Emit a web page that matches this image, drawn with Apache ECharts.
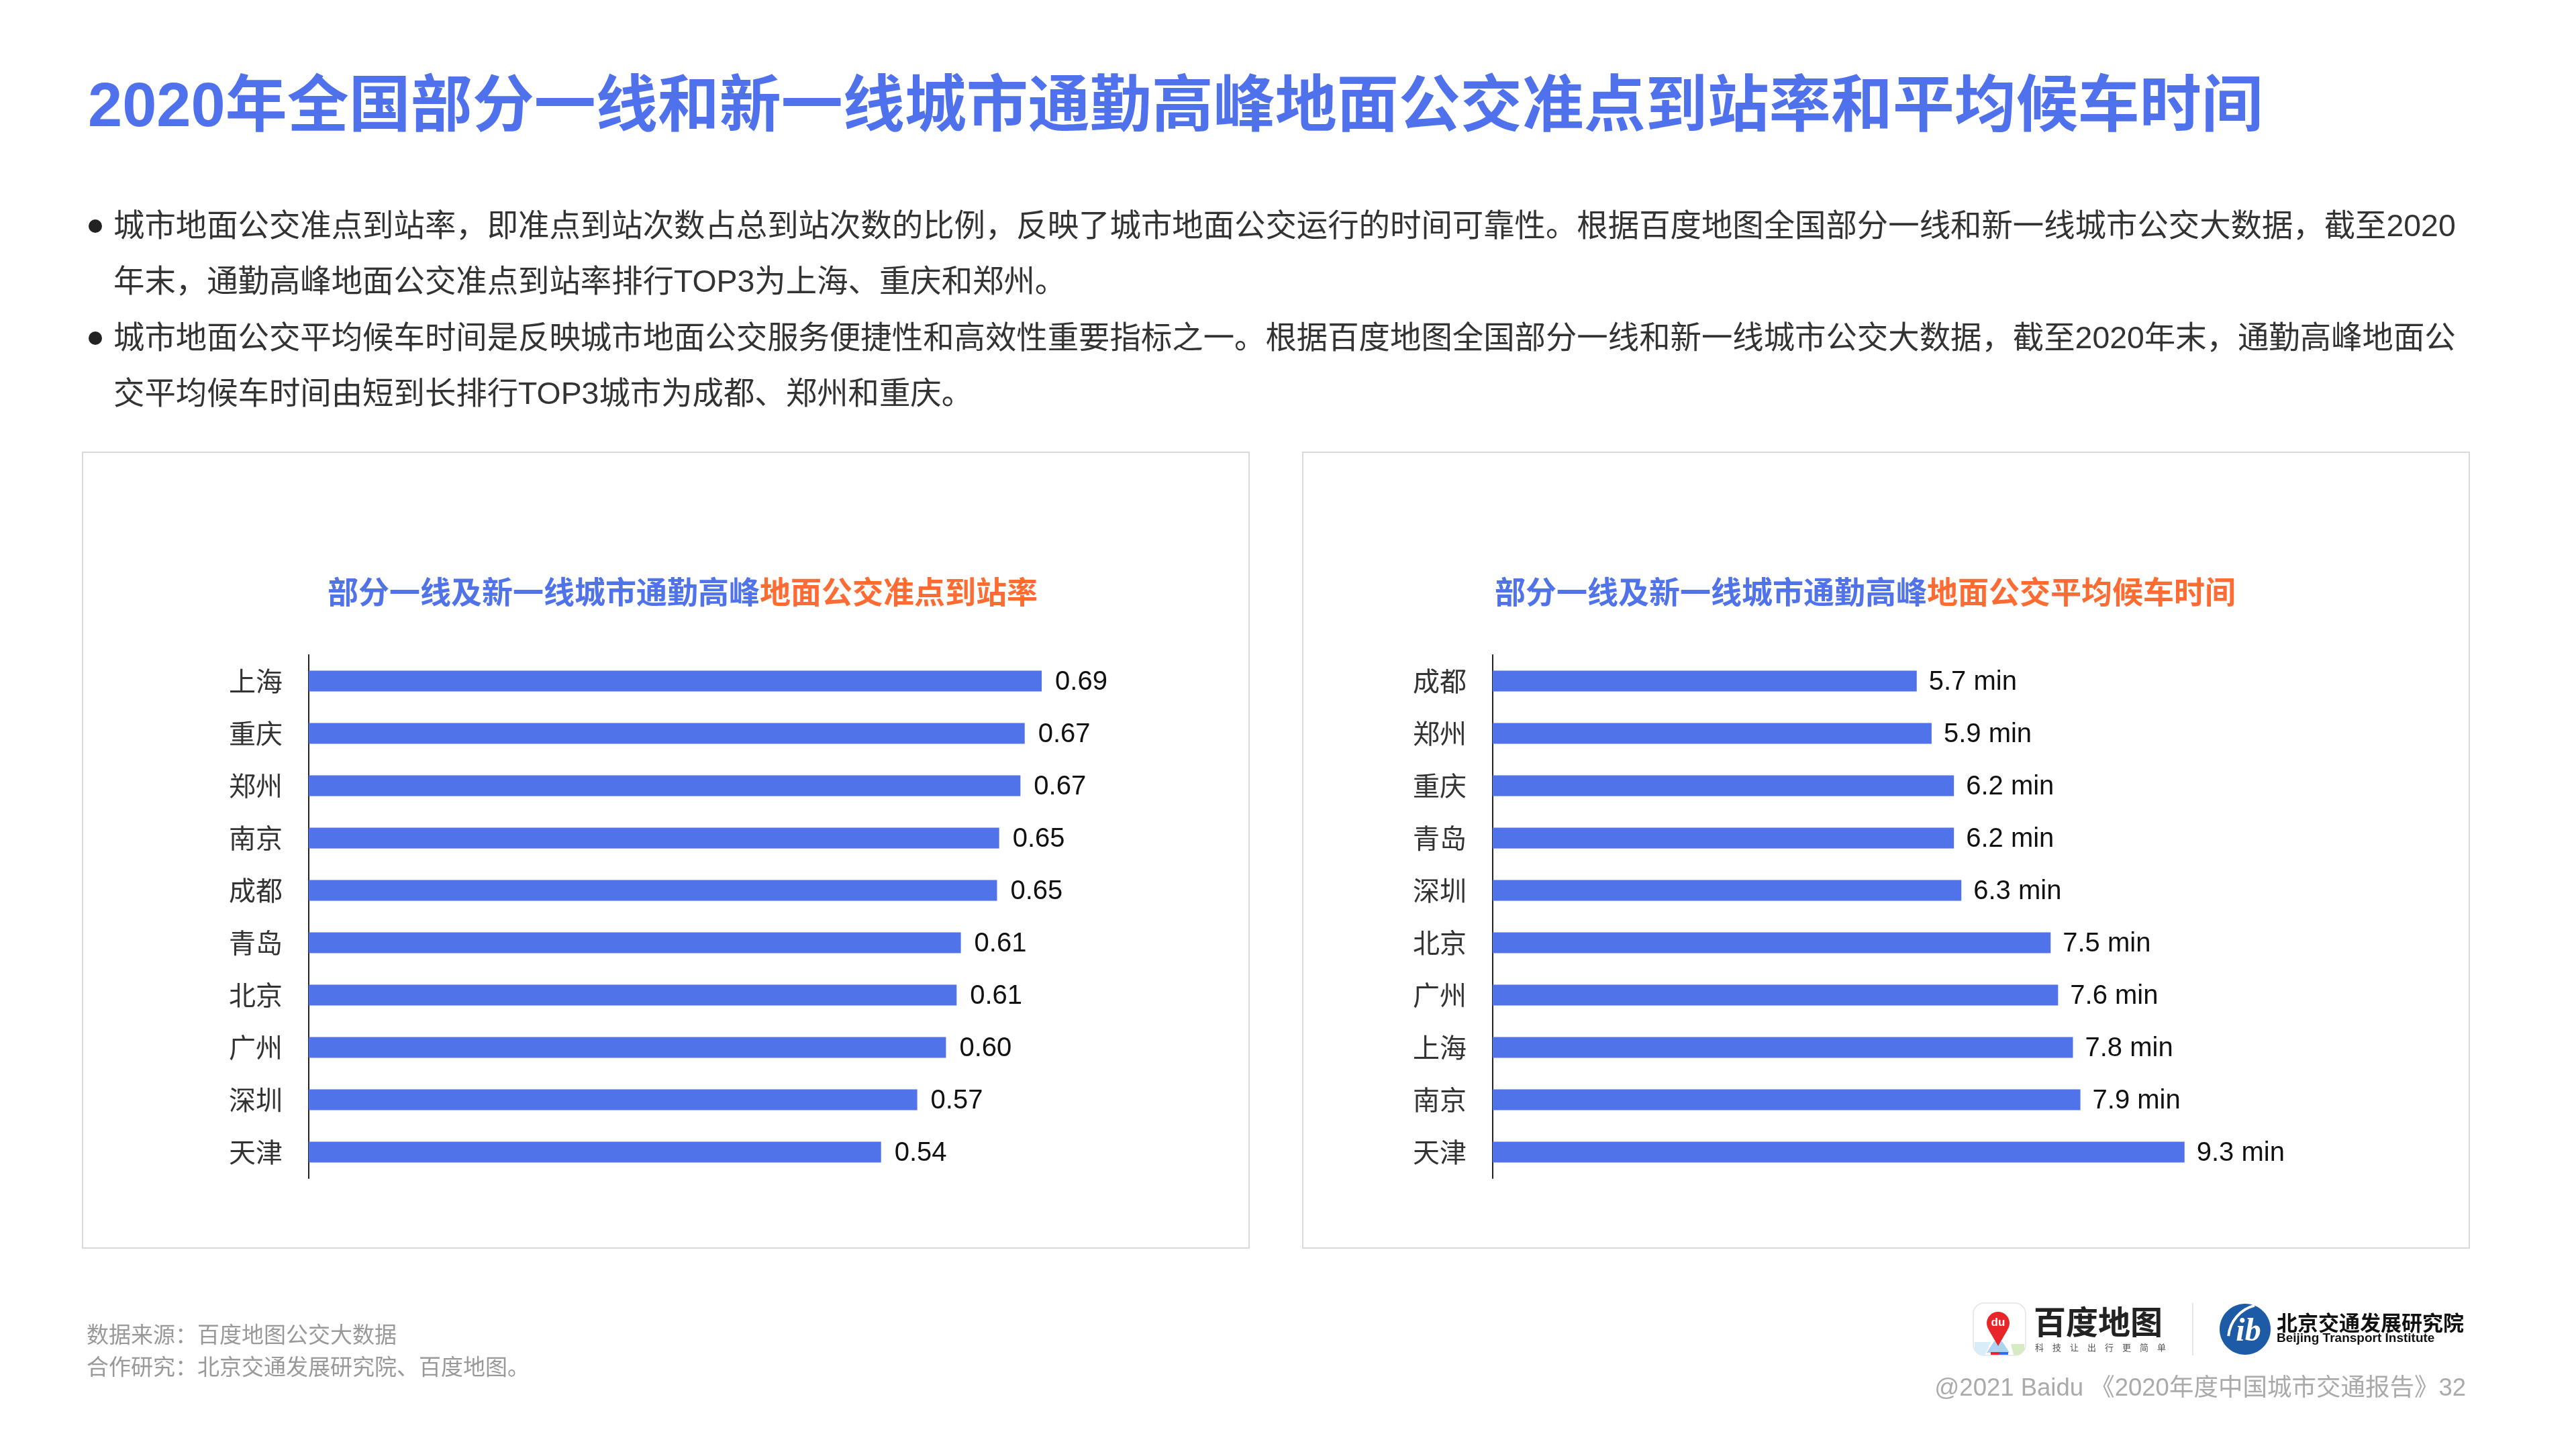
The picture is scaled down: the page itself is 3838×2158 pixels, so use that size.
<!DOCTYPE html>
<html>
<head>
<meta charset="utf-8">
<script src="https://cdn.jsdelivr.net/npm/echarts@6/dist/echarts.min.js"></script>
<style>
  html, body { margin: 0; padding: 0; background: #ffffff; }
  #chart { width: 3838px; height: 2158px; }
</style>
</head>
<body>
<div id="chart"></div>
<script>
// ---------- data ----------
const rateCities = ['上海', '重庆', '郑州', '南京', '成都', '青岛', '北京', '广州', '深圳', '天津'];
const rateValues = [0.689, 0.673, 0.669, 0.649, 0.647, 0.613, 0.609, 0.599, 0.572, 0.538];

const waitCities = ['成都', '郑州', '重庆', '青岛', '深圳', '北京', '广州', '上海', '南京', '天津'];
const waitValues = [5.7, 5.9, 6.2, 6.2, 6.3, 7.5, 7.6, 7.8, 7.9, 9.3];

const mainTitle = '2020年全国部分一线和新一线城市通勤高峰地面公交准点到站率和平均候车时间';
const bodyLines = [
  '城市地面公交准点到站率，即准点到站次数占总到站次数的比例，反映了城市地面公交运行的时间可靠性。根据百度地图全国部分一线和新一线城市公交大数据，截至2020',
  '年末，通勤高峰地面公交准点到站率排行TOP3为上海、重庆和郑州。',
  '城市地面公交平均候车时间是反映城市地面公交服务便捷性和高效性重要指标之一。根据百度地图全国部分一线和新一线城市公交大数据，截至2020年末，通勤高峰地面公',
  '交平均候车时间由短到长排行TOP3城市为成都、郑州和重庆。'
];
const chart1TitleA = '部分一线及新一线城市通勤高峰';
const chart1TitleB = '地面公交准点到站率';
const chart2TitleA = '部分一线及新一线城市通勤高峰';
const chart2TitleB = '地面公交平均候车时间';
const sourceLines = ['数据来源：百度地图公交大数据', '合作研究：北京交通发展研究院、百度地图。'];
const copyright = '@2021 Baidu 《2020年度中国城市交通报告》32';

// ---------- styles ----------
const CJK = '"Noto Sans CJK SC", "Noto Sans", sans-serif';
const MIX = '"Liberation Sans", "Noto Sans CJK SC", sans-serif';
const BLUE = '#5073ea';
const ORANGE = '#ff6c33';

const chart = echarts.init(document.getElementById('chart'), null, { renderer: 'canvas' });

function txt(text, x, y, font, fill, align, vAlign) {
  return {
    type: 'text', silent: true,
    style: { text: text, x: x, y: y, font: font, fill: fill,
             textAlign: align || 'left', textVerticalAlign: vAlign || 'middle' }
  };
}

const graphics = [];
// panels
graphics.push({ type: 'rect', silent: true, z: -1,
  shape: { x: 123, y: 674, width: 1738, height: 1186 },
  style: { fill: '#fff', stroke: '#d9d9d9', lineWidth: 2 } });
graphics.push({ type: 'rect', silent: true, z: -1,
  shape: { x: 1941, y: 674, width: 1738, height: 1186 },
  style: { fill: '#fff', stroke: '#d9d9d9', lineWidth: 2 } });

// main title
graphics.push(txt(mainTitle, 131, 163, 'bold 92px ' + MIX, '#4f72ec'));

// bullets + body text
const lineYs = [339, 422, 506, 589];
graphics.push({ type: 'circle', silent: true, shape: { cx: 142, cy: 337, r: 10 }, style: { fill: '#222' } });
graphics.push({ type: 'circle', silent: true, shape: { cx: 142, cy: 504, r: 10 }, style: { fill: '#222' } });
bodyLines.forEach(function (l, i) {
  graphics.push(txt(l, 169, lineYs[i], '46.4px ' + MIX, '#333'));
});

// chart titles (rich text)
function richTitle(a, b, x, y) {
  return {
    type: 'text', silent: true,
    style: {
      text: '{a|' + a + '}{b|' + b + '}', x: x, y: y,
      textAlign: 'left', textVerticalAlign: 'middle',
      rich: {
        a: { fontSize: 46, fontWeight: 'bold', fontFamily: CJK, fill: BLUE, color: BLUE },
        b: { fontSize: 46, fontWeight: 'bold', fontFamily: CJK, fill: ORANGE, color: ORANGE }
      }
    }
  };
}
graphics.push(richTitle(chart1TitleA, chart1TitleB, 488, 882));
graphics.push(richTitle(chart2TitleA, chart2TitleB, 2227, 882));

// footer
graphics.push(txt(sourceLines[0], 129, 1988, '33px ' + CJK, '#999'));
graphics.push(txt(sourceLines[1], 129, 2036, '33px ' + CJK, '#999'));
graphics.push(txt(copyright, 3674, 2070, '36.5px ' + MIX, '#aaa', 'right'));

// Baidu map logo
graphics.push({ type: 'rect', silent: true, shape: { x: 2940, y: 1942, width: 78, height: 78, r: 16 },
  style: { fill: '#fff', stroke: '#e3e3e3', lineWidth: 1.5 } });
graphics.push({ type: 'polygon', silent: true, shape: { points: [[2996, 2003], [3016, 2003], [3016, 2012], [3008, 2019], [3000, 2019]] },
  style: { fill: '#d6ebc2' } });
graphics.push({ type: 'polygon', silent: true, shape: { points: [[2942, 2000], [2966, 2000], [2958, 2019], [2950, 2019], [2942, 2012]] },
  style: { fill: '#d9edf8' } });
graphics.push({ type: 'polygon', silent: true, shape: { points: [[2971, 1999], [2983, 1999], [2994, 2016], [2960, 2016]] },
  style: { fill: '#a9d4f2' } });
graphics.push({ type: 'polygon', silent: true, shape: { points: [[2963, 1982], [2991, 1982], [2977, 2006]] },
  style: { fill: '#e8262a' } });
graphics.push({ type: 'circle', silent: true, shape: { cx: 2977, cy: 1972, r: 17 }, style: { fill: '#e8262a' } });
graphics.push(txt('du', 2977, 1971, 'bold 17px "Liberation Sans", sans-serif', '#fff', 'center'));
graphics.push({ type: 'rect', silent: true, shape: { x: 2966, y: 2015, width: 13, height: 4 }, style: { fill: '#e8262a' } });
graphics.push({ type: 'rect', silent: true, shape: { x: 2979, y: 2015, width: 13, height: 4 }, style: { fill: '#2d6df2' } });
graphics.push(txt('百度地图', 3030, 1970, 'bold 48px ' + CJK, '#222'));
graphics.push(txt('科　技　让　出　行　更　简　单', 3032, 2008, '13px ' + CJK, '#555'));
// divider
graphics.push({ type: 'line', silent: true, shape: { x1: 3267, y1: 1942, x2: 3267, y2: 2020 },
  style: { stroke: '#dddddd', lineWidth: 1.5 } });

// BJTI logo
graphics.push({ type: 'ellipse', silent: true, shape: { cx: 3345, cy: 1981, rx: 38, ry: 38 }, style: { fill: '#1d5ba6' } });
graphics.push({ type: 'arc', silent: true, shape: { cx: 3372, cy: 1996, r: 52, startAngle: Math.PI * 1.03, endAngle: Math.PI * 1.42 },
  style: { stroke: '#fff', lineWidth: 4, fill: null } });
graphics.push(txt('ib', 3350, 1986, 'italic bold 48px "Liberation Serif", serif', '#fff', 'center'));
graphics.push(txt('北京交通发展研究院', 3392, 1971, 'bold 31px ' + CJK, '#111'));
graphics.push(txt('Beijing Transport Institute', 3392, 1995, 'bold 19px "Liberation Sans", sans-serif', '#111'));

// ---------- option ----------
function yAxisFor(gridIndex, cats) {
  return {
    type: 'category', gridIndex: gridIndex, data: cats, inverse: true,
    axisLine: { show: true, lineStyle: { color: '#222', width: 2 } },
    axisTick: { show: false },
    axisLabel: { fontSize: 40, fontFamily: CJK, color: '#333', margin: 39 },
    splitLine: { show: false }
  };
}
function xAxisFor(gridIndex, max) {
  return {
    type: 'value', gridIndex: gridIndex, min: 0, max: max,
    axisLine: { show: false }, axisTick: { show: false },
    axisLabel: { show: false }, splitLine: { show: false }
  };
}

const option = {
  backgroundColor: '#ffffff',
  animation: false,
  grid: [
    { left: 460, top: 976, width: 1268, height: 780 },
    { left: 2224, top: 976, width: 1330, height: 780 }
  ],
  xAxis: [xAxisFor(0, 0.8), xAxisFor(1, 12)],
  yAxis: [yAxisFor(0, rateCities), yAxisFor(1, waitCities)],
  series: [
    {
      type: 'bar', xAxisIndex: 0, yAxisIndex: 0, data: rateValues, barWidth: 31,
      itemStyle: { color: BLUE },
      label: { show: true, position: 'right', distance: 20, fontSize: 40, fontFamily: MIX, color: '#111',
               offset: [0, 2],
               formatter: function (p) { return p.value.toFixed(2); } }
    },
    {
      type: 'bar', xAxisIndex: 1, yAxisIndex: 1, data: waitValues, barWidth: 31,
      itemStyle: { color: BLUE },
      label: { show: true, position: 'right', distance: 18, fontSize: 40, fontFamily: MIX, color: '#111',
               offset: [0, 2],
               formatter: function (p) { return p.value.toFixed(1) + ' min'; } }
    }
  ],
  graphic: { elements: graphics }
};
chart.setOption(option);
</script>
</body>
</html>
